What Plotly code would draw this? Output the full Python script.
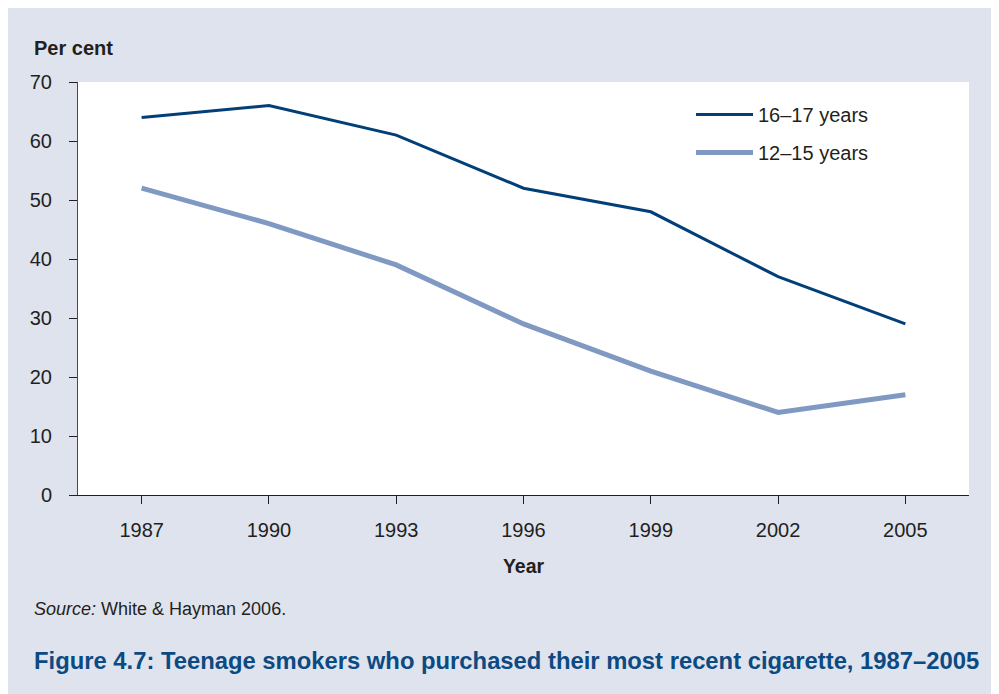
import plotly.graph_objects as go

years = ["1987", "1990", "1993", "1996", "1999", "2002", "2005"]
age_16_17 = [64, 66, 61, 52, 48, 37, 29]
age_12_15 = [52, 46, 39, 29, 21, 14, 17]
series_names = ["16–17 years", "12–15 years"]
y_ticks = [0, 10, 20, 30, 40, 50, 60, 70]

# page body adds an 8px offset; work in figure pixels = reference pixels - 8
OFF = 8
W, H = 999 - OFF, 694 - OFF
L, T = 78 - OFF, 82 - OFF
PW = (969 - OFF) - L
PH = (495 - OFF) - T
R = W - L - PW
B = H - T - PH


def px(x):
    return (x - OFF - L) / PW


def py(y):
    return (T + PH - (y - OFF)) / PH


FONT = "Liberation Sans, Arial, Helvetica, sans-serif"
TXT = "#231f20"
BG = "#dfe3ee"

fig = go.Figure()
fig.add_trace(go.Scatter(x=years, y=age_16_17, mode="lines", name=series_names[0],
                         line=dict(color="#023f78", width=3), legendgroup="a"))
fig.add_trace(go.Scatter(x=years, y=age_12_15, mode="lines", name=series_names[1],
                         line=dict(color="#8099c2", width=5), legendgroup="b"))

fig.update_layout(
    width=W, height=H,
    margin=dict(l=L, r=R, t=T, b=B, pad=0),
    paper_bgcolor=BG, plot_bgcolor="white",
    font=dict(family=FONT, size=20, color=TXT),
    showlegend=True,
    legend=dict(x=px(691), y=py(95), xanchor="left", yanchor="top",
                bgcolor="rgba(0,0,0,0)", itemwidth=57, tracegroupgap=9,
                font=dict(size=20, color=TXT)),
    xaxis=dict(type="category", range=[-0.5, 6.5], showline=True, linecolor=TXT,
               linewidth=1, ticks="outside", ticklen=8, tickcolor=TXT,
               showgrid=False, zeroline=False, ticklabelstandoff=9,
               tickfont=dict(size=20),
               title=dict(text="<b>Year</b>", standoff=19, font=dict(size=19.5))),
    yaxis=dict(range=[0, 70], tickvals=y_ticks, showline=True, linecolor="#4a4a4a",
               linewidth=1, ticks="outside", ticklen=8, tickcolor=TXT,
               showgrid=False, zeroline=False, ticklabelstandoff=13,
               tickfont=dict(size=20)),
    annotations=[
        dict(text="<b>Per cent</b>", xref="paper", yref="paper", x=px(32), y=py(48),
             xanchor="left", yanchor="middle", showarrow=False, font=dict(size=20)),
        dict(text="<i>Source:</i> White & Hayman 2006.", xref="paper", yref="paper",
             x=px(32), y=py(609), xanchor="left", yanchor="middle", showarrow=False,
             font=dict(size=18)),
        dict(text="<b>Figure 4.7: Teenage smokers who purchased their most recent cigarette, 1987–2005</b>",
             xref="paper", yref="paper", x=px(32), y=py(660), xanchor="left", yanchor="middle",
             showarrow=False, font=dict(size=23.8, color="#0b4a82")),
    ],
)

fig.write_html("out.html")
